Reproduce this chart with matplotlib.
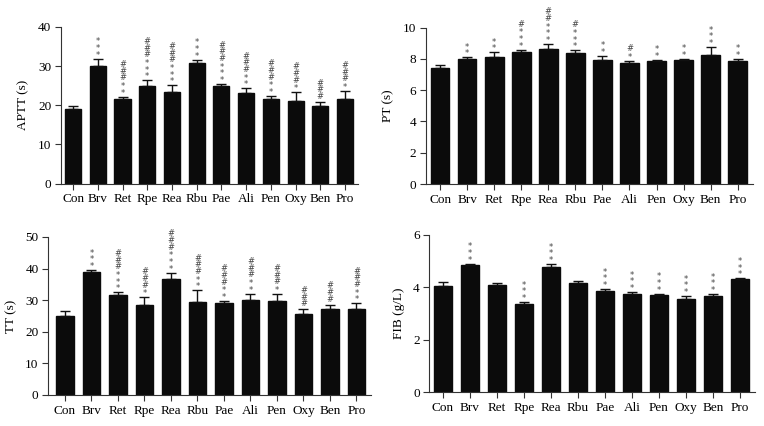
import numpy as np
import matplotlib.pyplot as plt

plt.rcParams['font.family'] = ['Liberation Serif', 'DejaVu Serif']

grupy = ['Con', 'Brv', 'Ret', 'Rpe', 'Rea', 'Rbu', 'Pae', 'Ali', 'Pen', 'Oxy', 'Ben', 'Pro']

aptt = [19.0, 30.0, 21.7, 24.8, 23.3, 30.8, 24.8, 23.0, 21.7, 21.1, 19.9, 21.5]
aptt_sd = [0.7, 1.9, 0.5, 1.6, 1.8, 0.8, 0.6, 1.3, 0.7, 2.2, 0.9, 2.1]
aptt_gw = ['', '***', '**', '***', '***', '***', '***', '**', '**', '*', '', '*']
aptt_kr = ['', '', '###', '###', '###', '', '###', '###', '###', '###', '###', '###']

pt = [7.40, 8.02, 8.10, 8.43, 8.66, 8.38, 7.93, 7.72, 7.85, 7.93, 8.23, 7.87]
pt_sd = [0.21, 0.08, 0.33, 0.17, 0.30, 0.17, 0.26, 0.15, 0.10, 0.07, 0.54, 0.13]
pt_gw = ['', '**', '**', '***', '***', '***', '**', '*', '**', '**', '***', '**']
pt_kr = ['', '', '', '#', '##', '#', '', '#', '', '', '', '']

tt = [24.9, 38.9, 31.6, 28.5, 36.7, 29.4, 29.1, 30.1, 29.7, 25.5, 27.1, 27.3]
tt_sd = [1.6, 0.6, 0.9, 2.4, 2.0, 3.7, 0.6, 2.0, 2.3, 1.6, 1.5, 1.7]
tt_gw = ['', '***', '***', '*', '***', '**', '**', '**', '*', '', '', '**']
tt_kr = ['', '', '###', '###', '###', '###', '###', '###', '###', '###', '###', '###']

fib = [4.05, 4.84, 4.10, 3.35, 4.76, 4.16, 3.84, 3.75, 3.69, 3.56, 3.65, 4.30]
fib_sd = [0.14, 0.06, 0.06, 0.09, 0.13, 0.08, 0.09, 0.07, 0.06, 0.10, 0.09, 0.04]
fib_gw = ['', '***', '', '***', '***', '', '***', '***', '***', '***', '***', '***']
fib_kr = ['', '', '', '', '', '', '', '', '', '', '', '']

# srodek znaku nad linia bazowa (w em) - gwiazdka siedzi wysoko
srodek = {'*': 0.60, '#': 0.36}
rozmiar = 6


def wykres(ax, wart, sd, gw, kr, ylab, ymax, krok, xlim, szer):
    x = np.arange(len(grupy))
    ax.bar(x, wart, width=szer, color='#0b0b0b', edgecolor='#0b0b0b', zorder=2)
    ax.errorbar(x, wart, yerr=[np.zeros(len(sd)), sd], fmt='none', ecolor='#111111',
                elinewidth=1.0, capsize=3.5, capthick=1.0, zorder=3)
    for i in range(len(grupy)):
        znaki = list(gw[i]) + list(kr[i])
        for j, z in enumerate(znaki):
            dy = 4.3 + j * 4.8 - srodek[z] * rozmiar
            ax.annotate(z, (x[i], wart[i] + sd[i]), xytext=(0, dy),
                        textcoords='offset points', ha='center', va='baseline',
                        fontsize=rozmiar, color='#444444', annotation_clip=False,
                        family='DejaVu Sans')
    ax.set_xlim(*xlim)
    ax.set_ylim(0, ymax)
    ax.set_yticks(np.arange(0, ymax + 0.01, krok))
    ax.set_xticks(x)
    ax.set_xticklabels(grupy)
    ax.set_ylabel(ylab, fontsize=9.5, labelpad=6)
    ax.spines['top'].set_visible(False)
    ax.spines['right'].set_visible(False)
    ax.spines['left'].set_color('#333333')
    ax.spines['bottom'].set_color('#333333')
    ax.tick_params(labelsize=9.5, length=4, color='#333333', pad=3)


fig = plt.figure(figsize=(7.64, 4.26), dpi=100)

ax1 = fig.add_axes([0.0798, 0.569, 0.389, 0.368])
wykres(ax1, aptt, aptt_sd, aptt_gw, aptt_kr, 'APTT (s)', 40, 10, (-0.49, 11.53), 0.65)

ax2 = fig.add_axes([0.5576, 0.568, 0.4274, 0.367])
wykres(ax2, pt, pt_sd, pt_gw, pt_kr, 'PT (s)', 10, 2, (-0.52, 11.55), 0.69)

ax3 = fig.add_axes([0.0632, 0.0728, 0.4218, 0.371])
wykres(ax3, tt, tt_sd, tt_gw, tt_kr, 'TT (s)', 50, 10, (-0.63, 11.53), 0.65)

ax4 = fig.add_axes([0.562, 0.0798, 0.426, 0.369])
wykres(ax4, fib, fib_sd, fib_gw, fib_kr, 'FIB (g/L)', 6, 2, (-0.5, 11.55), 0.69)

fig.savefig('out.png', dpi=100)
